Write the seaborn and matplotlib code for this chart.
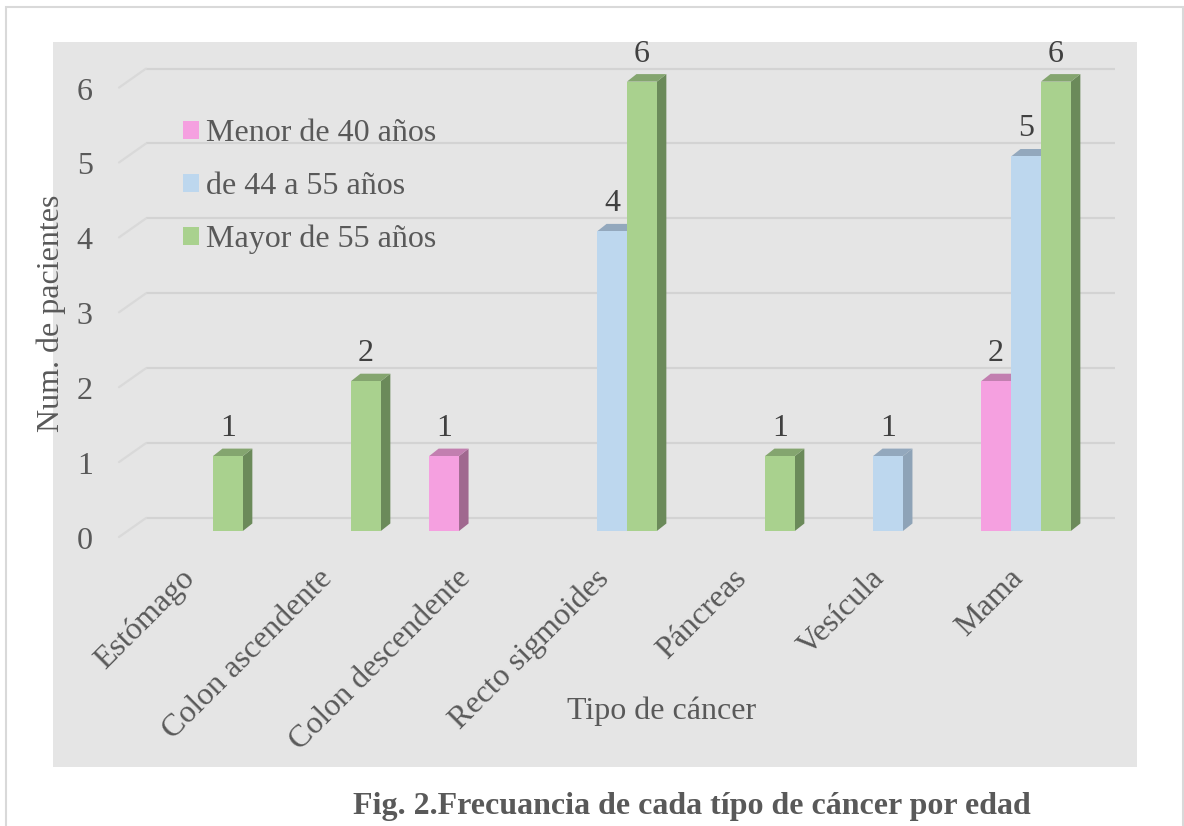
import numpy as np
import pandas as pd
import matplotlib
matplotlib.use("Agg")
import matplotlib.pyplot as plt
import matplotlib.colors as mcolors
import seaborn as sns
from matplotlib.patches import Polygon, Rectangle, Patch
from matplotlib.transforms import ScaledTranslation

# Cancer types and patient counts per age group
tipos = ["Estómago", "Colon ascendente", "Colon descendente", "Recto sigmoides",
         "Páncreas", "Vesícula", "Mama"]
grupos = ["Menor de 40 años", "de 44 a 55 años", "Mayor de 55 años"]
menor_40 = [0, 0, 1, 0, 0, 0, 2]
de_44_55 = [0, 0, 0, 4, 0, 1, 5]
mayor_55 = [1, 2, 0, 6, 1, 0, 6]
y_ticks = [0, 1, 2, 3, 4, 5, 6]

# Face colours of the pseudo-3D columns: front, right side, top
front_cols = ["#F5A0E0", "#BDD7EE", "#A9D18E"]
side_cols = ["#A0688F", "#8EA3B7", "#6B8A5A"]
top_cols = ["#C27FB0", "#93A8BD", "#84A56F"]

TEXT = "#595959"
LABEL = "#404040"
GRID = "#D3D3D3"
PANEL = "#E5E5E5"
FS = 23

df = pd.DataFrame({
    "tipo": tipos * 3,
    "grupo": np.repeat(grupos, len(tipos)),
    "n": menor_40 + de_44_55 + mayor_55,
})

sns.set_style("white")
plt.rcParams["font.family"] = ["Liberation Serif", "DejaVu Serif"]

W, H = 1184, 826
DPI = 100
fig = plt.figure(figsize=(W / DPI, H / DPI), dpi=DPI)

# outer frame and grey chart area
fig.add_artist(Rectangle((6 / W, -0.02), 1177 / W, 1 - 7 / H + 0.02,
                         transform=fig.transFigure, fill=False,
                         edgecolor="#D9D9D9", lw=1.5, zorder=-2))
fig.add_artist(Rectangle((53 / W, 1 - 767 / H), 1084 / W, 725 / H,
                         transform=fig.transFigure, facecolor=PANEL,
                         edgecolor="none", zorder=-1))

ax = fig.add_axes([100 / W, 1 - 531 / H, 1037 / W, 489 / H])
ax.set_facecolor("none")

sns.barplot(data=df, x="tipo", y="n", hue="grupo", order=tipos,
            hue_order=grupos, palette=front_cols, saturation=1,
            width=0.65, dodge=True, errorbar=None, legend=False,
            edgecolor="none", linewidth=0, ax=ax, zorder=3)

ax.set_xlim(-0.7101, 6.8043)
ax.set_ylim(0, 6.5287)

# pixel sizes of one data unit
px_x = 1037 / (6.8043 + 0.7101)
px_y = 489 / 6.5287

# depth of the columns
dx = 9.5 / px_x
dy = 7.5 / px_y

front_hex = [mcolors.to_hex(c) for c in front_cols]
for bar in list(ax.patches):
    h = bar.get_height()
    if h <= 0:
        continue
    k = front_hex.index(mcolors.to_hex(bar.get_facecolor()))
    x0, w = bar.get_x(), bar.get_width()
    x1 = x0 + w
    ax.add_patch(Polygon([(x1, 0), (x1 + dx, dy), (x1 + dx, h + dy), (x1, h)],
                         closed=True, facecolor=side_cols[k], edgecolor="none",
                         zorder=2))
    ax.add_patch(Polygon([(x0, h), (x0 + dx, h + dy), (x1 + dx, h + dy), (x1, h)],
                         closed=True, facecolor=top_cols[k], edgecolor="none",
                         zorder=2))
    ax.annotate(f"{int(h)}", xy=(x0 + w / 2, h), xytext=(0, 20),
                textcoords="offset pixels", ha="center", va="baseline",
                fontsize=FS, color=LABEL, zorder=4)

# gridlines on the back wall with a short slanted piece on the floor edge
back_off = 13 / px_y
front_off = -6 / px_y
x_front = (119 - 198) / px_x
x_back = (146 - 198) / px_x
x_end = (1115 - 198) / px_x
for v in y_ticks:
    ax.plot([x_back, x_end], [v + back_off, v + back_off], color=GRID,
            lw=1.6, zorder=1, clip_on=False, solid_capstyle="butt")
    ax.plot([x_front, x_back], [v + front_off, v + back_off], color="#D9D9D9",
            lw=1.6, zorder=1, clip_on=False)

for s in ax.spines.values():
    s.set_visible(False)

ax.set_yticks(y_ticks)
ax.set_yticklabels([str(v) for v in y_ticks])
ax.tick_params(axis="y", length=0, pad=5.3, labelsize=FS, labelcolor=TEXT)
shift_y = ScaledTranslation(0, -7 / DPI, fig.dpi_scale_trans)
for lab in ax.get_yticklabels():
    lab.set_transform(lab.get_transform() + shift_y)

ax.tick_params(axis="x", length=0, pad=33 * 0.72, labelsize=FS, labelcolor=TEXT)
shift_x = ScaledTranslation(-18 / DPI, 0, fig.dpi_scale_trans)
for lab in ax.get_xticklabels():
    lab.set_rotation(45)
    lab.set_ha("right")
    lab.set_rotation_mode("anchor")
    lab.set_transform(lab.get_transform() + shift_x)

ax.set_xlabel("Tipo de cáncer", fontsize=FS, color=TEXT)
ax.xaxis.set_label_coords(0.542, -0.339)
ax.set_ylabel("Num. de pacientes", fontsize=FS, color=TEXT)
ax.yaxis.set_label_coords(-0.0328, 0.446)

handles = [Patch(facecolor=c, edgecolor="none") for c in front_cols]
ax.legend(handles, grupos, loc="upper left",
          bbox_to_anchor=(183 / W, 1 - 119 / H), bbox_transform=fig.transFigure,
          frameon=False, fontsize=FS, labelcolor=TEXT, handlelength=0.5,
          handleheight=0.5, handletextpad=0.22, labelspacing=0.75,
          borderpad=0, borderaxespad=0)

fig.text(692 / W, 1 - 814 / H, "Fig. 2.Frecuancia de cada típo de cáncer por edad",
         ha="center", va="baseline", fontsize=FS, fontweight="bold", color=TEXT)

fig.savefig("out.png", dpi=DPI)
